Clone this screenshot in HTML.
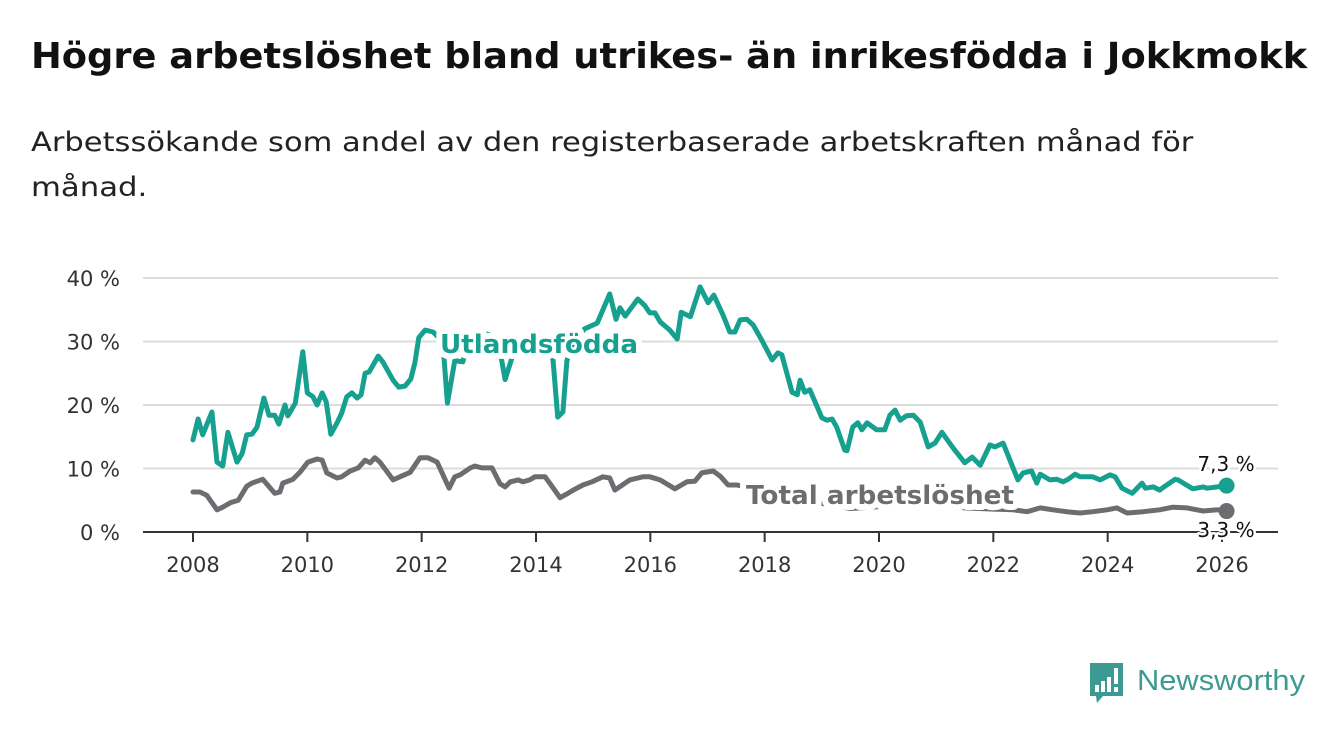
<!DOCTYPE html>
<html><head><meta charset="utf-8">
<style>
body{margin:0;background:#fff;width:1340px;height:734px;overflow:hidden;font-family:"DejaVu Sans","Liberation Sans",sans-serif;}
.fit{position:absolute;white-space:nowrap;transform-origin:0 0;margin:0}
#title{left:31px;top:36px;font-size:36px;font-weight:bold;color:#111;}
.sub{left:31px;font-size:27px;color:#222;}
svg{position:absolute;left:0;top:0}
</style></head><body>
<h1 id="title" class="fit" data-w="1276">Högre arbetslöshet bland utrikes- än inrikesfödda i Jokkmokk</h1>
<div class="fit sub" style="top:127px" data-w="1162">Arbetssökande som andel av den registerbaserade arbetskraften månad för</div>
<div class="fit sub" style="top:172px" data-w="116">månad.</div>
<svg id="chart" width="1340" height="734"></svg>
<script>
document.querySelectorAll('.fit').forEach(e=>{const w=+e.getAttribute('data-w');const s=w/e.offsetWidth;e.style.transform='scaleX('+s+')';});
const yTicks=[0,10,20,30,40];
const yTickLabels=["0 %","10 %","20 %","30 %","40 %"];
const xTicks=[2008,2010,2012,2014,2016,2018,2020,2022,2024,2026];
const foreignX=[2008.0,2008.09,2008.17,2008.33,2008.42,2008.52,2008.61,2008.77,2008.86,2008.94,2009.03,2009.12,2009.24,2009.33,2009.43,2009.5,2009.61,2009.66,2009.79,2009.92,2010.0,2010.1,2010.17,2010.26,2010.33,2010.41,2010.52,2010.6,2010.69,2010.78,2010.87,2010.94,2011.01,2011.08,2011.24,2011.32,2011.5,2011.6,2011.71,2011.81,2011.88,2011.95,2012.06,2012.2,2012.37,2012.45,2012.58,2012.72,2012.85,2013.0,2013.2,2013.38,2013.46,2013.6,2013.8,2014.0,2014.2,2014.3,2014.38,2014.47,2014.54,2014.65,2014.85,2015.07,2015.29,2015.4,2015.47,2015.56,2015.64,2015.78,2015.9,2015.99,2016.08,2016.17,2016.34,2016.47,2016.54,2016.7,2016.87,2017.01,2017.11,2017.27,2017.39,2017.48,2017.57,2017.69,2017.8,2017.95,2018.13,2018.23,2018.3,2018.48,2018.57,2018.62,2018.7,2018.79,2018.88,2019.0,2019.09,2019.18,2019.26,2019.4,2019.44,2019.54,2019.63,2019.7,2019.79,2019.96,2020.1,2020.19,2020.28,2020.37,2020.48,2020.6,2020.72,2020.86,2020.98,2021.1,2021.3,2021.5,2021.63,2021.77,2021.94,2022.03,2022.17,2022.43,2022.52,2022.67,2022.76,2022.82,2022.99,2023.11,2023.22,2023.31,2023.43,2023.52,2023.74,2023.87,2024.04,2024.13,2024.25,2024.43,2024.6,2024.66,2024.8,2024.91,2025.0,2025.18,2025.23,2025.49,2025.67,2025.74,2025.92,2026.08];
const foreignY=[14.5,17.8,15.3,18.9,11,10.4,15.7,11,12.4,15.3,15.4,16.5,21.1,18.4,18.4,17,20,18.3,20.3,28.4,21.9,21.3,20,21.9,20.5,15.4,17.2,18.7,21.3,21.9,21.1,21.6,25,25.2,27.7,26.8,23.9,22.8,23,24.1,26.6,30.6,31.8,31.5,30,20.3,27,26.8,31,31.5,31,28,24,28,30.5,31,30.5,27,18.1,18.9,27,30,32,32.9,37.5,33.5,35.3,34,35,36.7,35.7,34.5,34.5,33.1,31.8,30.4,34.6,33.9,38.6,36.1,37.3,34.2,31.5,31.5,33.4,33.5,32.6,30.2,27.1,28.2,27.9,22,21.6,23.9,22,22.4,20.5,18,17.6,17.8,16.5,12.9,12.8,16.5,17.2,16.1,17.2,16.1,16.1,18.4,19.2,17.6,18.3,18.4,17.3,13.4,14,15.7,13.2,10.9,11.8,10.5,13.7,13.4,14,8.2,9.3,9.6,7.7,9.1,8.2,8.3,7.9,8.3,9.1,8.7,8.7,8.2,9,8.7,6.9,6.1,7.7,6.9,7.1,6.6,7.2,8.3,8.2,6.8,7.1,6.9,7.1,7.3];
const totalX=[2008.0,2008.12,2008.24,2008.42,2008.52,2008.65,2008.79,2008.94,2009.03,2009.22,2009.43,2009.52,2009.57,2009.75,2009.87,2010.01,2010.17,2010.26,2010.34,2010.52,2010.6,2010.75,2010.89,2011.01,2011.1,2011.18,2011.27,2011.5,2011.62,2011.8,2011.97,2012.11,2012.27,2012.48,2012.58,2012.67,2012.85,2012.93,2013.05,2013.23,2013.37,2013.46,2013.55,2013.69,2013.77,2013.89,2013.98,2014.16,2014.24,2014.42,2014.56,2014.65,2014.82,2014.98,2015.17,2015.29,2015.38,2015.64,2015.87,2015.99,2016.17,2016.43,2016.64,2016.78,2016.9,2017.1,2017.22,2017.36,2017.52,2017.7,2018.0,2018.5,2019.0,2019.5,2020.0,2020.5,2021.0,2021.5,2022.0,2022.35,2022.59,2022.82,2023.04,2023.28,2023.52,2023.74,2023.99,2024.16,2024.34,2024.62,2024.91,2025.14,2025.39,2025.67,2025.92,2026.08];
const totalY=[6.3,6.3,5.8,3.5,3.9,4.6,5,7.2,7.7,8.3,6.1,6.3,7.7,8.3,9.4,11,11.5,11.3,9.3,8.5,8.7,9.6,10.1,11.3,10.9,11.7,11,8.2,8.7,9.4,11.7,11.7,11,6.9,8.7,9,10.1,10.4,10.1,10.1,7.6,7.1,7.9,8.2,7.9,8.2,8.7,8.7,7.7,5.4,6.1,6.6,7.4,7.9,8.7,8.5,6.6,8.2,8.7,8.7,8.2,6.8,7.9,8,9.3,9.6,8.8,7.4,7.4,7,6.5,5.5,4.5,3.7,4,4.8,4.5,3.8,3.6,3.5,3.2,3.8,3.5,3.2,3,3.2,3.5,3.8,3,3.2,3.5,3.9,3.8,3.3,3.5,3.3];
const NS="http://www.w3.org/2000/svg";
const svg=document.getElementById('chart');
const FF='DejaVu Sans, Liberation Sans, sans-serif';
const xS=v=>193+(v-2008)*(1222-193)/18;
const yS=v=>532-v*6.35;
function mk(tag,attrs,parent){const e=document.createElementNS(NS,tag);for(const k in attrs)e.setAttribute(k,attrs[k]);(parent||svg).appendChild(e);return e;}
yTicks.forEach((t,i)=>{
  if(t>0){const g=mk('line',{x1:143,x2:1278,y1:yS(t),y2:yS(t),stroke:'#dcdcdc','stroke-width':2});
  
  }
  const l=mk('text',{x:120,y:yS(t)+8,'text-anchor':'end','font-size':21,fill:'#333','font-family':FF});
  l.textContent=yTickLabels[i];
  
  
});
const ax=mk('line',{x1:143,x2:1278,y1:532,y2:532,stroke:'#333','stroke-width':2});


xTicks.forEach(t=>{
  const tk=mk('line',{x1:xS(t),x2:xS(t),y1:532,y2:542,stroke:'#333','stroke-width':2});
  
  
  const l=mk('text',{x:xS(t),y:572,'text-anchor':'middle','font-size':21,fill:'#333','font-family':FF});
  l.textContent=t;
  
  
});
function line(xs,ys,color,name){
  const d=xs.map((x,i)=>(i?'L':'M')+xS(x).toFixed(1)+','+yS(ys[i]).toFixed(1)).join('');
  const p=mk('path',{d:d,fill:'none',stroke:color,'stroke-width':5,'stroke-linejoin':'round','stroke-linecap':'round'});
  
  
  const n=xs.length-1;
  const c=mk('circle',{cx:xS(xs[n]),cy:yS(ys[n]),r:8,fill:color});
  
  
}
const teal='#16a090', gray='#6d6c70';
line(totalX,totalY,gray,'total');
line(foreignX,foreignY,teal,'foreign-born');
function label(txt,x,y,color,name,size,anchor,bold,len){
  const a={x:x,y:y,'font-size':size,'font-weight':bold?'bold':'normal',fill:color,stroke:'#fff','stroke-width':bold?12:5,'paint-order':'stroke','stroke-linejoin':'round','text-anchor':anchor,'font-family':FF};
  if(len){a.textLength=len;a.lengthAdjust='spacingAndGlyphs';}
  const t=mk('text',a);
  t.textContent=txt;
  
  
}
label('Utlandsfödda',440,353,teal,'foreign-born-label',26,'start',true,198);
label('Total arbetslöshet',746,504,gray,'total-label',26,'start',true,268);
label(String(foreignY[foreignY.length-1]).replace('.',',')+' %',1226,471,'#111','foreign-born-value',20,'middle',false);
label(String(totalY[totalY.length-1]).replace('.',',')+' %',1226,537,'#111','total-value',20,'middle',false);
const lg=mk('g',{});


mk('path',{d:'M1090,663 h33 v33 h-20 l-6,7 l-1,-7 h-6 z',fill:'#3d9a93'},lg);
mk('rect',{x:1095,y:685,width:4,height:7,fill:'#fff'},lg);
mk('rect',{x:1101,y:681,width:4,height:11,fill:'#fff'},lg);
mk('rect',{x:1107,y:677,width:4,height:15,fill:'#fff'},lg);
mk('rect',{x:1114,y:668,width:4,height:16,fill:'#fff'},lg);
mk('rect',{x:1114,y:687,width:4,height:5,fill:'#fff'},lg);
const lt=mk('text',{x:1137,y:690,'font-size':29,fill:'#3d9a93','font-family':'Liberation Sans, sans-serif',textLength:168,lengthAdjust:'spacingAndGlyphs'},lg);
lt.textContent='Newsworthy';
</script>
</body></html>
